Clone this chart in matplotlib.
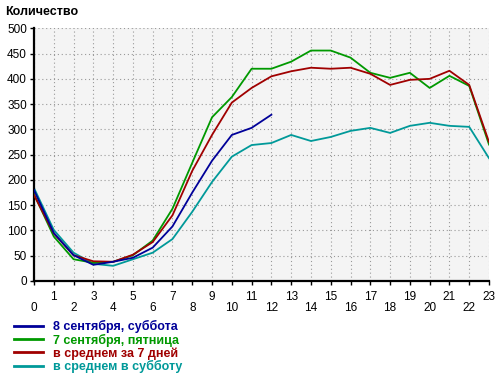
import matplotlib
matplotlib.use("Agg")
import matplotlib.pyplot as plt
from matplotlib.ticker import MultipleLocator

plt.rcParams['font.family'] = ['Liberation Sans', 'DejaVu Sans']

hours = list(range(24))
sat_hours = list(range(13))

sat_8sep = [180, 95, 51, 32, 38, 46, 66, 108, 175, 238, 289, 303, 329]
fri_7sep = [172, 88, 43, 36, 38, 51, 80, 143, 234, 324, 364, 420, 420, 434, 456, 456, 442, 412, 402, 412, 382, 406, 386, 270]
avg_7days = [170, 94, 51, 39, 38, 52, 77, 130, 218, 289, 353, 382, 405, 415, 422, 420, 422, 410, 388, 398, 400, 416, 388, 275]
avg_sat = [184, 101, 56, 34, 30, 43, 56, 83, 137, 196, 246, 269, 273, 289, 277, 285, 297, 303, 293, 307, 313, 307, 305, 243]

labels = ["8 сентября, суббота", "7 сентября, пятница", "в среднем за 7 дней", "в среднем в субботу"]
colors = ["#000099", "#009900", "#a00000", "#009999"]

fig = plt.figure(figsize=(5.0, 3.76), dpi=100)
ax = fig.add_axes([0.068, 0.2527, 0.91, 0.672])
ax.set_facecolor("#f4f4f4")

ax.plot(sat_hours, sat_8sep, color=colors[0], lw=1.3, label=labels[0], zorder=5)
ax.plot(hours, fri_7sep, color=colors[1], lw=1.3, label=labels[1], zorder=3)
ax.plot(hours, avg_7days, color=colors[2], lw=1.3, label=labels[2], zorder=4)
ax.plot(hours, avg_sat, color=colors[3], lw=1.3, label=labels[3], zorder=2)

ax.set_xlim(0, 23)
ax.set_ylim(0, 500)
ax.yaxis.set_major_locator(MultipleLocator(50))
ax.set_xticks(list(range(0, 24, 2)))
ax.set_xticks(list(range(1, 24, 2)), minor=True)
ax.set_xticklabels([str(h) for h in range(0, 24, 2)])
ax.set_xticklabels([str(h) for h in range(1, 24, 2)], minor=True)

ax.tick_params(axis='x', which='major', length=3, width=1, pad=12, labelsize=8.5, color='black')
ax.tick_params(axis='x', which='minor', length=3, width=1, pad=4, labelsize=8.5, color='black')
ax.tick_params(axis='y', length=3, width=1, pad=2, labelsize=8.5)

ax.grid(True, which='both', axis='x', linestyle=(0, (1, 2.5)), color='#999999', lw=0.8)
ax.grid(True, which='major', axis='y', linestyle=(0, (1, 2.5)), color='#999999', lw=0.8)
ax.set_axisbelow(True)

for s in ['top', 'right']:
    ax.spines[s].set_visible(False)
for s in ['left', 'bottom']:
    ax.spines[s].set_linewidth(1.6)
    ax.spines[s].set_color('black')

fig.text(0.01, 0.985, "Количество", fontsize=9, fontweight='bold', ha='left', va='top')

leg = fig.legend(loc='upper left', bbox_to_anchor=(0.028, 0.149), frameon=False,
                 prop={'weight': 'bold', 'size': 9}, labelcolor='linecolor',
                 handlelength=2.3, handletextpad=0.8, labelspacing=0.05,
                 borderaxespad=0, borderpad=0)
for line in leg.get_lines():
    line.set_linewidth(2)

fig.savefig("out.png", dpi=100)
